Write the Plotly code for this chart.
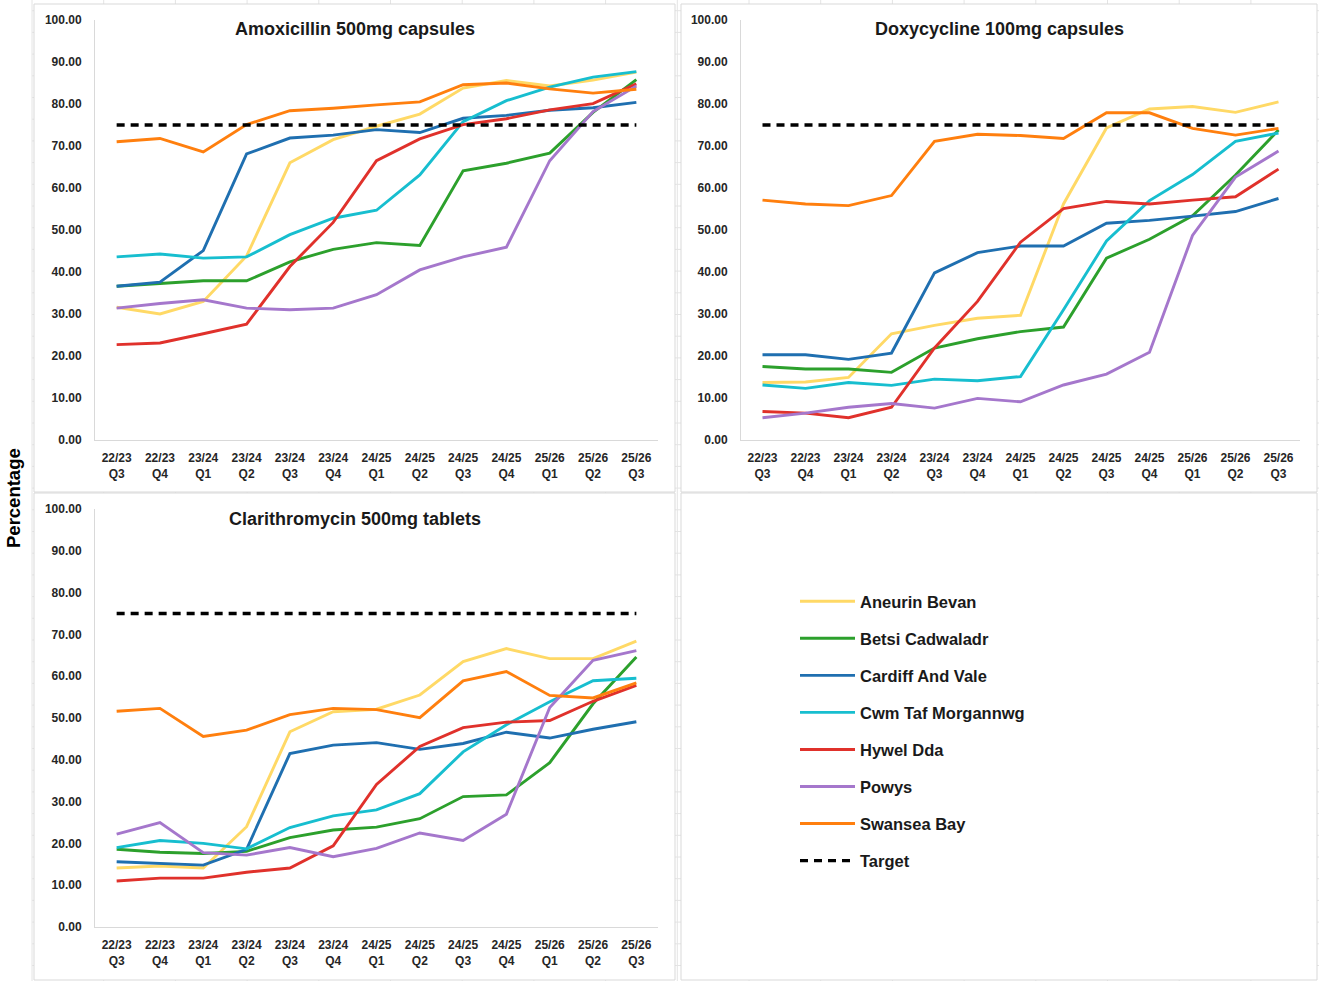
import plotly.graph_objects as go

# ---------------- data ----------------
quarters = ["22/23<br>Q3", "22/23<br>Q4", "23/24<br>Q1", "23/24<br>Q2", "23/24<br>Q3", "23/24<br>Q4",
            "24/25<br>Q1", "24/25<br>Q2", "24/25<br>Q3", "24/25<br>Q4", "25/26<br>Q1", "25/26<br>Q2", "25/26<br>Q3"]

boards = ["Aneurin Bevan", "Betsi Cadwaladr", "Cardiff And Vale", "Cwm Taf Morgannwg",
          "Hywel Dda", "Powys", "Swansea Bay"]

amox_aneurin = [31.6, 30.0, 33.0, 43.8, 66.0, 71.5, 74.7, 77.6, 83.8, 85.6, 84.3, 85.7, 87.6]
amox_betsi = [36.6, 37.3, 37.9, 37.9, 42.4, 45.4, 47.0, 46.3, 64.1, 65.9, 68.3, 78.0, 85.8]
amox_cardiff = [36.6, 37.6, 45.1, 68.1, 71.9, 72.6, 73.9, 73.2, 76.6, 77.3, 78.5, 79.1, 80.4]
amox_cwm = [43.6, 44.3, 43.3, 43.6, 48.9, 52.8, 54.7, 63.1, 75.8, 80.8, 84.0, 86.4, 87.7]
amox_hywel = [22.7, 23.1, 25.3, 27.6, 41.3, 51.8, 66.5, 71.7, 75.1, 76.5, 78.6, 80.1, 84.8]
amox_powys = [31.4, 32.5, 33.4, 31.4, 31.0, 31.4, 34.6, 40.5, 43.6, 45.9, 66.5, 78.2, 84.3]
amox_swansea = [71.0, 71.8, 68.6, 75.1, 78.4, 79.0, 79.8, 80.5, 84.6, 85.0, 83.6, 82.6, 83.5]

doxy_aneurin = [13.7, 13.8, 14.9, 25.3, 27.3, 29.0, 29.7, 56.2, 74.3, 78.8, 79.4, 78.0, 80.5]
doxy_betsi = [17.5, 16.9, 16.9, 16.1, 21.9, 24.1, 25.8, 26.9, 43.3, 47.8, 53.4, 63.1, 73.8]
doxy_cardiff = [20.3, 20.3, 19.2, 20.7, 39.8, 44.6, 46.2, 46.2, 51.6, 52.3, 53.3, 54.4, 57.5]
doxy_cwm = [13.1, 12.3, 13.7, 13.0, 14.5, 14.1, 15.1, 31.0, 47.4, 57.0, 63.2, 71.1, 73.1]
doxy_hywel = [6.8, 6.4, 5.3, 7.8, 21.9, 33.0, 47.1, 55.1, 56.8, 56.2, 57.1, 57.9, 64.5]
doxy_powys = [5.3, 6.4, 7.8, 8.7, 7.6, 9.9, 9.1, 13.1, 15.7, 20.9, 48.7, 62.6, 68.8]
doxy_swansea = [57.1, 56.2, 55.8, 58.2, 71.1, 72.8, 72.5, 71.8, 77.9, 77.9, 74.2, 72.6, 74.2]

clar_aneurin = [14.1, 14.6, 14.1, 24.0, 46.7, 51.5, 52.1, 55.5, 63.5, 66.6, 64.2, 64.2, 68.4]
clar_betsi = [18.6, 17.9, 17.6, 18.1, 21.4, 23.2, 23.9, 25.9, 31.2, 31.6, 39.3, 53.4, 64.6]
clar_cardiff = [15.6, 15.2, 14.8, 18.6, 41.5, 43.5, 44.1, 42.5, 43.9, 46.6, 45.2, 47.3, 49.1]
clar_cwm = [19.0, 20.7, 20.0, 18.7, 23.8, 26.6, 28.0, 31.9, 41.9, 48.4, 53.9, 58.9, 59.5]
clar_hywel = [11.0, 11.7, 11.7, 13.1, 14.1, 19.4, 34.1, 43.2, 47.7, 49.0, 49.4, 54.0, 57.8]
clar_powys = [22.2, 25.0, 17.8, 17.2, 19.0, 16.8, 18.8, 22.5, 20.7, 27.0, 52.5, 63.8, 66.1]
clar_swansea = [51.6, 52.3, 45.6, 47.1, 50.8, 52.3, 52.0, 50.1, 58.9, 61.1, 55.4, 54.8, 58.4]

target_value = 75

y_ticks = [0, 10, 20, 30, 40, 50, 60, 70, 80, 90, 100]

panel_titles = ["Amoxicillin 500mg capsules", "Doxycycline 100mg capsules", "Clarithromycin 500mg tablets"]

panel_data = [
    [amox_aneurin, amox_betsi, amox_cardiff, amox_cwm, amox_hywel, amox_powys, amox_swansea],
    [doxy_aneurin, doxy_betsi, doxy_cardiff, doxy_cwm, doxy_hywel, doxy_powys, doxy_swansea],
    [clar_aneurin, clar_betsi, clar_cardiff, clar_cwm, clar_hywel, clar_powys, clar_swansea],
]

colors = ["#FFD966", "#2CA02C", "#1F6FB0", "#17BECF", "#E0312B", "#A577CC", "#FF7F0E"]

# ---------------- layout geometry (pixels) ----------------
W, H = 1319, 981
FONT = "Liberation Sans"


def fx(px):
    return px / W


def fy(py):
    return 1 - py / H


plot_boxes = [  # x0, x1, ytop, ybottom
    (95, 658, 20, 440),
    (741, 1300, 20, 440),
    (95, 658, 509, 927),
]
panel_rects = [  # chart areas (x0, y0, x1, y1) in px
    (34, 4, 675, 492),
    (681, 4, 1317, 492),
    (34, 493, 675, 980),
    (681, 493, 1317, 980),
]
title_pos = [(354.5, 29), (999, 29), (354.5, 519)]

fig = go.Figure()

for p in range(3):
    suffix = "" if p == 0 else str(p + 1)
    for i, name in enumerate(boards):
        fig.add_trace(go.Scatter(
            x=quarters, y=panel_data[p][i], mode="lines", name=name,
            line=dict(color=colors[i], width=2.9),
            legendgroup=name, showlegend=(p == 0),
            xaxis="x" + suffix, yaxis="y" + suffix,
        ))
    fig.add_trace(go.Scatter(
        x=quarters, y=[target_value] * len(quarters), mode="lines", name="Target",
        line=dict(color="black", width=3.3, dash="8px,6px"),
        legendgroup="Target", showlegend=(p == 0),
        xaxis="x" + suffix, yaxis="y" + suffix,
    ))

tick_font = dict(family=FONT, size=12, color="#262626", weight="bold")

layout = dict(
    width=W, height=H,
    margin=dict(l=0, r=0, t=0, b=0, pad=0, autoexpand=False),
    paper_bgcolor="white", plot_bgcolor="rgba(0,0,0,0)",
    showlegend=True,
    legend=dict(
        x=fx(795), y=fy(584), xanchor="left", yanchor="top",
        font=dict(family=FONT, size=16.5, color="#1a1a1a", weight="bold"),
        tracegroupgap=12.6, itemwidth=55, bgcolor="rgba(0,0,0,0)",
        traceorder="grouped",
    ),
)

for p, (x0, x1, yt, yb) in enumerate(plot_boxes):
    suffix = "" if p == 0 else str(p + 1)
    layout["xaxis" + suffix] = dict(
        domain=[fx(x0), fx(x1)], anchor="y" + suffix, automargin=False,
        type="category", range=[-0.5, len(quarters) - 0.5],
        showgrid=False, zeroline=False, showline=True, linecolor="#d9d9d9", linewidth=1,
        ticks="", tickfont=tick_font, ticklabelstandoff=7, tickangle=0,
    )
    layout["yaxis" + suffix] = dict(
        domain=[fy(yb), fy(yt)], anchor="x" + suffix, automargin=False,
        range=[0, 100], tickvals=y_ticks, tickformat=".2f",
        showgrid=False, zeroline=False, showline=True, linecolor="#d9d9d9", linewidth=1,
        ticks="", tickfont=tick_font, ticklabelstandoff=10,
    )

shapes = []
# faint spreadsheet grid behind the chart panels
gx = 32.0
while gx < W:
    shapes.append(dict(type="line", xref="paper", yref="paper", x0=fx(gx), x1=fx(gx), y0=0, y1=1,
                       line=dict(color="#e4e4e4", width=1), layer="below"))
    gx += 71.7
gy = 10.7
while gy < H:
    shapes.append(dict(type="line", xref="paper", yref="paper", x0=fx(32), x1=1, y0=fy(gy), y1=fy(gy),
                       line=dict(color="#e4e4e4", width=1), layer="below"))
    gy += 21.7
for (x0, y0, x1, y1) in panel_rects:
    shapes.append(dict(type="rect", xref="paper", yref="paper", x0=fx(x0), x1=fx(x1), y0=fy(y1), y1=fy(y0),
                       line=dict(color="#d9d9d9", width=1), fillcolor="white", layer="below"))
layout["shapes"] = shapes

annotations = []
for t, (cx, cy) in zip(panel_titles, title_pos):
    annotations.append(dict(text=t, x=fx(cx), y=fy(cy), xref="paper", yref="paper",
                            xanchor="center", yanchor="middle", showarrow=False,
                            font=dict(family=FONT, size=18, color="#1a1a1a", weight="bold")))
annotations.append(dict(text="Percentage", x=fx(13), y=fy(498), xref="paper", yref="paper",
                        xanchor="center", yanchor="middle", showarrow=False, textangle=-90,
                        font=dict(family=FONT, size=18.5, color="black", weight="bold")))
layout["annotations"] = annotations

fig.update_layout(**layout)
fig.write_html(
    "out.html",
    config={"displayModeBar": False},
    post_script=(
        "document.body.style.margin='0';document.body.style.overflow='hidden';"
        "var d=document.getElementById('{plot_id}');"
        "d.style.position='fixed';d.style.top='0px';d.style.left='0px';"
    ),
)
